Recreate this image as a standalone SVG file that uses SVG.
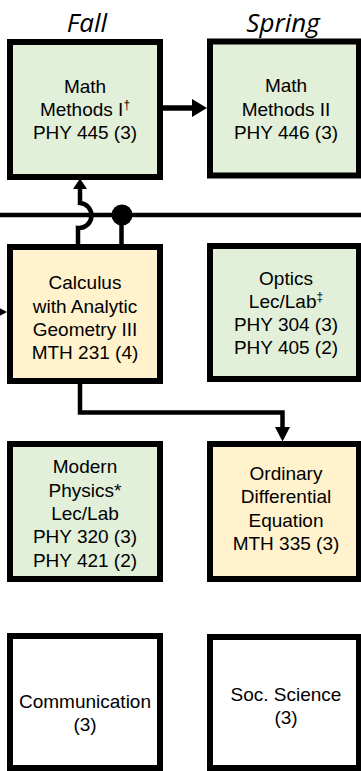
<svg xmlns="http://www.w3.org/2000/svg" width="361" height="771" viewBox="0 0 361 771">
<style>
.box{stroke:#000;stroke-width:6}
.g{fill:#E2EFD9}
.y{fill:#FFF2CC}
.w{fill:#FFFFFF}
.t{font-family:"Liberation Sans",Arial,sans-serif;font-size:19px;fill:#000;text-anchor:middle}
.h{font-family:"Open Sans","Noto Sans",sans-serif;font-style:italic;font-size:26px;fill:#000;text-anchor:middle}
.c{fill:none;stroke:#000;stroke-width:4.5}
.sup{font-size:12px}
</style>
<rect width="361" height="771" fill="#FFFFFF"/>
<g id="headers">
<text class="h" x="87" y="32">Fall</text>
<text class="h" x="283" y="32">Spring</text>
</g>
<g id="connectors">
<line class="c" x1="0" y1="215" x2="361" y2="215"/>
<line class="c" x1="162" y1="108" x2="194" y2="108" style="stroke-width:5.5"/>
<polygon points="192,99 207,108 192,117" fill="#000"/>
<path class="c" d="M78,245 V228 A12.5,12.5 0 0 0 80,203 V188"/>
<polygon points="73,189 80,178.5 87,189" fill="#000"/>
<line class="c" x1="121.5" y1="215" x2="121.5" y2="245"/>
<circle cx="122" cy="215" r="10.5" fill="#000"/>
<line class="c" x1="-20" y1="312" x2="-4" y2="312"/>
<polygon points="-6,305 7,312 -6,319" fill="#000"/>
<path class="c" d="M80,384 V412.5 H282.5 V428"/>
<polygon points="275,427 282.5,441.5 290,427" fill="#000"/>
</g>
<g id="math1">
<rect class="box g" x="10" y="42" width="150" height="135"/>
<text class="t" x="85" y="92.5">Math</text>
<text class="t" x="85" y="115.5">Methods I<tspan class="sup" dy="-7">†</tspan></text>
<text class="t" x="85" y="138.5">PHY 445 (3)</text>
</g>
<g id="math2">
<rect class="box g" x="210" y="41.5" width="149" height="134"/>
<text class="t" x="286" y="92">Math</text>
<text class="t" x="286" y="115.5">Methods II</text>
<text class="t" x="286" y="139">PHY 446 (3)</text>
</g>
<g id="calc3">
<rect class="box y" x="10" y="247" width="150" height="134"/>
<text class="t" x="85" y="289">Calculus</text>
<text class="t" x="85" y="312.5">with Analytic</text>
<text class="t" x="85" y="335.5">Geometry III</text>
<text class="t" x="85" y="358.5">MTH 231 (4)</text>
</g>
<g id="optics">
<rect class="box g" x="210" y="246" width="149" height="133"/>
<text class="t" x="286" y="285">Optics</text>
<text class="t" x="286" y="308">Lec/Lab<tspan class="sup" dy="-7">‡</tspan></text>
<text class="t" x="286" y="331">PHY 304 (3)</text>
<text class="t" x="286" y="354">PHY 405 (2)</text>
</g>
<g id="modern">
<rect class="box g" x="10" y="444" width="150" height="135"/>
<text class="t" x="85" y="473">Modern</text>
<text class="t" x="85" y="496.5">Physics*</text>
<text class="t" x="85" y="519.5">Lec/Lab</text>
<text class="t" x="85" y="543">PHY 320 (3)</text>
<text class="t" x="85" y="566.5">PHY 421 (2)</text>
</g>
<g id="ode">
<rect class="box y" x="210" y="444" width="149" height="135"/>
<text class="t" x="286" y="480">Ordinary</text>
<text class="t" x="286" y="503">Differential</text>
<text class="t" x="286" y="527">Equation</text>
<text class="t" x="286" y="550">MTH 335 (3)</text>
</g>
<g id="comm">
<rect class="box w" x="10" y="636" width="150" height="132"/>
<text class="t" x="85" y="707.5">Communication</text>
<text class="t" x="85" y="730.5">(3)</text>
</g>
<g id="socsci">
<rect class="box w" x="210" y="637" width="149" height="131"/>
<text class="t" x="286" y="701">Soc. Science</text>
<text class="t" x="286" y="723.5">(3)</text>
</g>
</svg>
